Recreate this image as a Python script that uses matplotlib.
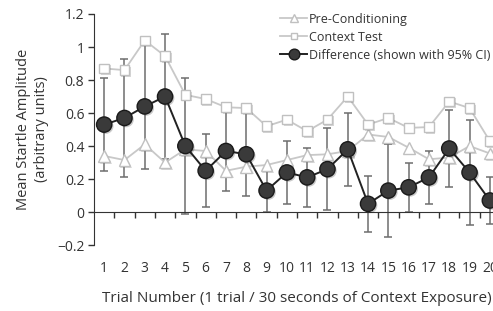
import numpy as np
import matplotlib.pyplot as plt
from matplotlib import patheffects as pe

# Data
trials = np.arange(1, 21)
pre_conditioning = [0.34, 0.315, 0.41, 0.30, 0.38, 0.37, 0.25, 0.275, 0.285, 0.315,
                    0.345, 0.35, 0.37, 0.47, 0.455, 0.39, 0.32, 0.33, 0.40, 0.355]
context_test = [0.87, 0.86, 1.04, 0.945, 0.71, 0.685, 0.635, 0.63, 0.52, 0.56,
                0.49, 0.56, 0.70, 0.53, 0.57, 0.51, 0.515, 0.67, 0.63, 0.43]
difference = [0.53, 0.57, 0.64, 0.70, 0.40, 0.25, 0.37, 0.35, 0.13, 0.24,
              0.21, 0.26, 0.38, 0.05, 0.13, 0.15, 0.21, 0.385, 0.24, 0.07]
ci_half = [0.28, 0.36, 0.38, 0.38, 0.41, 0.22, 0.24, 0.25, 0.13, 0.19,
           0.18, 0.25, 0.22, 0.17, 0.28, 0.15, 0.16, 0.235, 0.32, 0.14]

ytick_vals = [-0.2, 0, 0.2, 0.4, 0.6, 0.8, 1, 1.2]
ytick_labels = ['\u22120.2', '0', '0.2', '0.4', '0.6', '0.8', '1', '1.2']

plt.rcParams['font.family'] = ['Open Sans', 'DejaVu Sans']

fig = plt.figure(figsize=(4.93, 3.11), dpi=100)
ax = fig.add_axes([0.1907, 0.212, 0.8235, 0.743])

shadow = [pe.SimplePatchShadow(offset=(1.2, -1.2), alpha=0.22), pe.Normal()]

# error bars of the difference
ax.errorbar(trials, difference, yerr=ci_half, fmt='none', ecolor='#6e6e6e',
            elinewidth=1.1, capsize=3.2, capthick=1.1, zorder=1)

series = [
    (pre_conditioning, 'Pre-Conditioning', '^', 8.5, 'white', '#c0c0c0', '#c8c8c8', 1.3, 2),
    (context_test, 'Context Test', 's', 7, 'white', '#c0c0c0', '#c8c8c8', 1.3, 3),
    (difference, 'Difference (shown with 95% CI)', 'o', 11, '#3a3a3a', '#1a1a1a', '#222222', 1.4, 4),
]
for vals, label, mk, ms, mfc, mec, lc, lw, z in series:
    # connecting line
    ax.plot(trials, vals, color=lc, lw=lw, zorder=z)
    # markers with a soft drop shadow
    ax.plot(trials, vals, ls='none', marker=mk, ms=ms, mfc=mfc, mec=mec,
            mew=1.0, zorder=z + 0.5, path_effects=shadow)
    # legend proxy
    ax.plot([], [], color=lc, lw=lw, marker=mk, ms=ms, mfc=mfc, mec=mec,
            mew=1.0, label=label)

ax.set_xlim(0.5, 20.5)
ax.set_ylim(-0.2, 1.2)

# axes styling: category axis crossing at zero
for side in ['top', 'right']:
    ax.spines[side].set_visible(False)
ax.spines['bottom'].set_position(('data', 0))
ax.spines['bottom'].set_color('#333333')
ax.spines['left'].set_color('#333333')

ax.set_xticks(trials)
ax.set_xticklabels([str(t) for t in trials])
ax.set_xticks(trials[:-1] + 0.5, minor=True)
ax.tick_params(axis='x', which='major', length=0, pad=35, labelsize=10,
               colors='#333333')
ax.tick_params(axis='x', which='minor', length=4, width=1, direction='out',
               color='#333333')

ax.set_yticks(ytick_vals)
ax.set_yticklabels(ytick_labels)
ax.tick_params(axis='y', length=4, width=1, direction='out', labelsize=10,
               colors='#333333', pad=3)

ax.set_ylabel('Mean Startle Amplitude\n(arbitrary units)', fontsize=10.5,
              color='#333333', labelpad=6)
ax.set_xlabel('Trial Number (1 trial / 30 seconds of Context Exposure)',
              fontsize=11, color='#333333', labelpad=11)

leg = ax.legend(loc='upper left', bbox_to_anchor=(0.43, 1.055), frameon=False,
                fontsize=9, handlelength=2.2, handletextpad=0.1,
                labelspacing=0.4, markerscale=0.7)
for txt in leg.get_texts():
    txt.set_color('#333333')

fig.savefig('out.png', dpi=100)
